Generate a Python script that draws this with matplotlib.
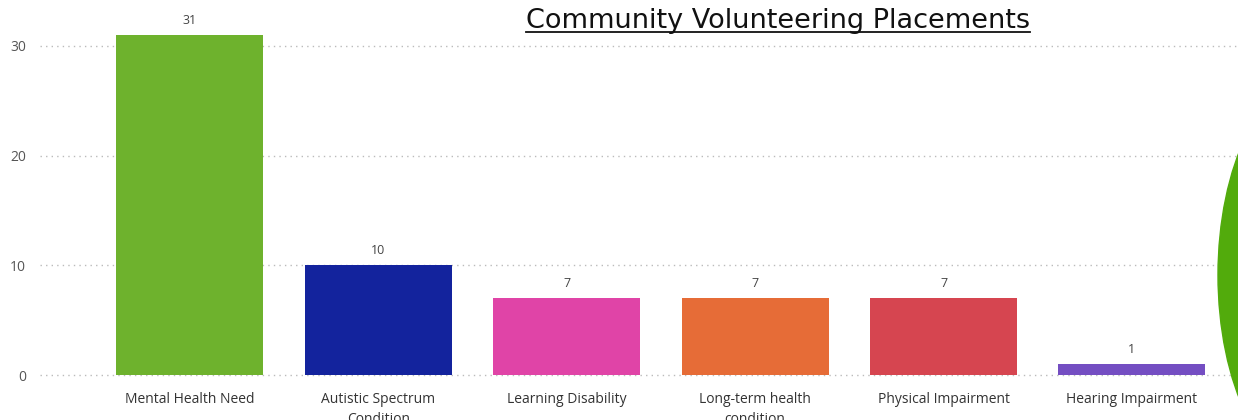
import matplotlib.pyplot as plt
from matplotlib.patches import Ellipse
from matplotlib.lines import Line2D

categories = ['Mental Health Need', 'Autistic Spectrum\nCondition', 'Learning Disability',
              'Long-term health\ncondition', 'Physical Impairment', 'Hearing Impairment']
counts = [31, 10, 7, 7, 7, 1]
colors = ['#6EB22D', '#13239D', '#E044A7', '#E66C37', '#D64550', '#744EC2']
yticks = [0, 10, 20, 30]

plt.rcParams['font.family'] = ['Open Sans', 'DejaVu Sans']

fig = plt.figure(figsize=(12.38, 4.2), dpi=100)
ax = fig.add_axes([40 / 1238, 35 / 420, 1 - 40 / 1238, 375 / 420])

x = list(range(len(categories)))
bars = ax.bar(x, counts, width=0.78, color=colors, zorder=2)
ax.bar_label(bars, padding=6, fontsize=9, color='#444444')

ax.set_xlim(-0.796, 5.563)
ax.set_ylim(-0.91, 33.27)
ax.set_yticks(yticks)
ax.set_xticks(x)
ax.set_xticklabels(categories, fontsize=10, color='#333333', linespacing=1.5)
ax.tick_params(axis='y', length=0, pad=10, labelsize=10, labelcolor='#555555')
ax.tick_params(axis='x', length=0, pad=5)
ax.grid(axis='y', linestyle=(0, (1, 3)), color='#BBBBBB', linewidth=1, zorder=0)
for s in ax.spines.values():
    s.set_visible(False)

title = fig.text(778 / 1238, 1 - 28 / 420, 'Community Volunteering Placements',
                 ha='center', va='baseline', fontsize=19.5, color='#111111',
                 family='DejaVu Sans')

# decorative green shape at the right edge
ell = Ellipse((1318 / 1238, 1 - 275 / 420), 200 / 1238, 400 / 420,
              transform=fig.transFigure, color='#52AB0C', zorder=10)
fig.add_artist(ell)

# underline the title
fig.canvas.draw()
bb = title.get_window_extent().transformed(fig.transFigure.inverted())
uy = 1 - 32 / 420
fig.add_artist(Line2D([bb.x0, bb.x1], [uy, uy],
                      transform=fig.transFigure, color='#111111', linewidth=1.3))

fig.savefig('out.png', dpi=100)
